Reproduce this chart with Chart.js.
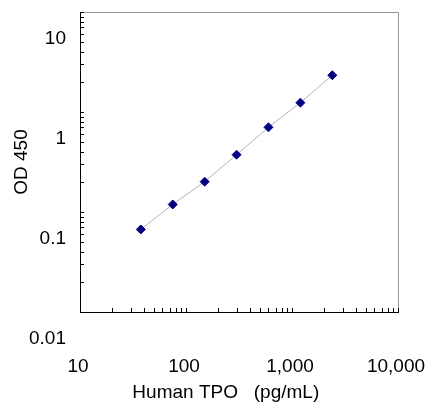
<!DOCTYPE html>
<html>
<head>
<meta charset="utf-8">
<script src="https://cdn.jsdelivr.net/npm/chart.js@4.4.1/dist/chart.umd.min.js"></script>
<style>
  html, body { margin: 0; padding: 0; background: #fff; }
  #wrap { width: 427px; height: 404px; position: relative; }
</style>
</head>
<body>
<div id="wrap"><canvas id="chart"></canvas></div>
<script>
// standard concentrations (pg/mL) and measured OD 450
const concentrations = [37.5, 75, 150, 300, 600, 1200, 2400];
const odValues = [0.067, 0.119, 0.201, 0.374, 0.703, 1.24, 2.33];

// labelled decades on each axis
const xMajor = [10, 100, 1000, 10000];
const xMajorLabels = ["10", "100", "1,000", "10,000"];
const yMajor = [0.01, 0.1, 1, 10];
const yMajorLabels = ["0.01", "0.1", "1", "10"];

// 1..9 steps inside every decade, for the small tick marks
function decadeTicks(majors) {
    let ticks = [];
    for (let i = 0; i < majors.length; i++) {
        ticks.push(majors[i]);
        if (i < majors.length - 1) {
            for (let k = 2; k <= 9; k++) {
                ticks.push(majors[i] * k);
            }
        }
    }
    return ticks;
}

function labelFor(majors, labels) {
    return function(value) {
        for (let i = 0; i < majors.length; i++) {
            if (Math.abs(value - majors[i]) < majors[i] * 1e-6) {
                return labels[i];
            }
        }
        return "";
    };
}

// the axes should not push the plot in for label overhang
function noPadding(scale) {
    scale.paddingLeft = 0;
    scale.paddingRight = 0;
    scale.paddingTop = 0;
    scale.paddingBottom = 0;
}

// tick marks point into the plot, and the top/right frame is grey
const innerTicks = {
    id: "innerTicks",
    afterDraw(chart) {
        const ctx = chart.ctx;
        const area = chart.chartArea;
        const xs = chart.scales.x;
        const ys = chart.scales.y;
        ctx.save();
        ctx.lineWidth = 1;
        ctx.strokeStyle = "#969696";
        ctx.beginPath();
        ctx.moveTo(area.left, area.top + 0.5);
        ctx.lineTo(area.right + 0.5, area.top + 0.5);
        ctx.lineTo(area.right + 0.5, area.bottom);
        ctx.stroke();

        ctx.strokeStyle = "#000";
        ctx.beginPath();
        xs.ticks.forEach(function(t) {
            const px = Math.round(xs.getPixelForValue(t.value)) + 0.5;
            ctx.moveTo(px, area.bottom);
            ctx.lineTo(px, area.bottom - 4);
        });
        ys.ticks.forEach(function(t) {
            const py = Math.round(ys.getPixelForValue(t.value)) + 0.5;
            ctx.moveTo(area.left, py);
            ctx.lineTo(area.left + 4, py);
        });
        ctx.stroke();
        ctx.restore();
    }
};

Chart.defaults.font.family = "'Liberation Sans', Arial, sans-serif";
Chart.defaults.font.size = 19;
Chart.defaults.color = "#000";

const points = concentrations.map(function(c, i) {
    return { x: c, y: odValues[i] };
});

new Chart(document.getElementById("chart"), {
    type: "scatter",
    data: {
        datasets: [{
            data: points,
            showLine: true,
            borderColor: "#b4b4b4",
            borderWidth: 1,
            pointStyle: "rectRot",
            pointRadius: 4.5,
            pointBackgroundColor: "#000080",
            pointBorderColor: "#000080",
            pointBorderWidth: 1
        }]
    },
    options: {
        responsive: true,
        maintainAspectRatio: false,
        animation: false,
        layout: { padding: { top: 12, right: 29, left: 0, bottom: 0 } },
        plugins: {
            legend: { display: false },
            tooltip: { enabled: false }
        },
        scales: {
            x: {
                type: "logarithmic",
                min: 10,
                max: 10000,
                afterBuildTicks: function(scale) {
                    scale.ticks = decadeTicks(xMajor).map(function(v) { return { value: v }; });
                },
                afterFit: function(scale) {
                    scale.height = 92;
                    noPadding(scale);
                },
                grid: { display: false, drawTicks: false },
                border: { display: true, color: "#000", width: 1 },
                ticks: {
                    autoSkip: false,
                    maxRotation: 0,
                    padding: 43,
                    labelOffset: -2,
                    callback: labelFor(xMajor, xMajorLabels)
                },
                title: {
                    display: true,
                    text: "Human TPO   (pg/mL)     ",
                    padding: { top: 0, bottom: 0 }
                }
            },
            y: {
                type: "logarithmic",
                min: 0.01,
                max: 10,
                afterBuildTicks: function(scale) {
                    scale.ticks = decadeTicks(yMajor).map(function(v) { return { value: v }; });
                },
                afterFit: function(scale) {
                    scale.width = 80;
                    noPadding(scale);
                },
                grid: { display: false, drawTicks: false },
                border: { display: true, color: "#000", width: 1 },
                ticks: {
                    autoSkip: false,
                    padding: 14,
                    labelOffset: 27,
                    callback: labelFor(yMajor, yMajorLabels)
                },
                title: {
                    display: true,
                    text: "OD 450",
                    padding: { top: 10, bottom: 0 }
                }
            }
        }
    },
    plugins: [innerTicks]
});
</script>
</body>
</html>
